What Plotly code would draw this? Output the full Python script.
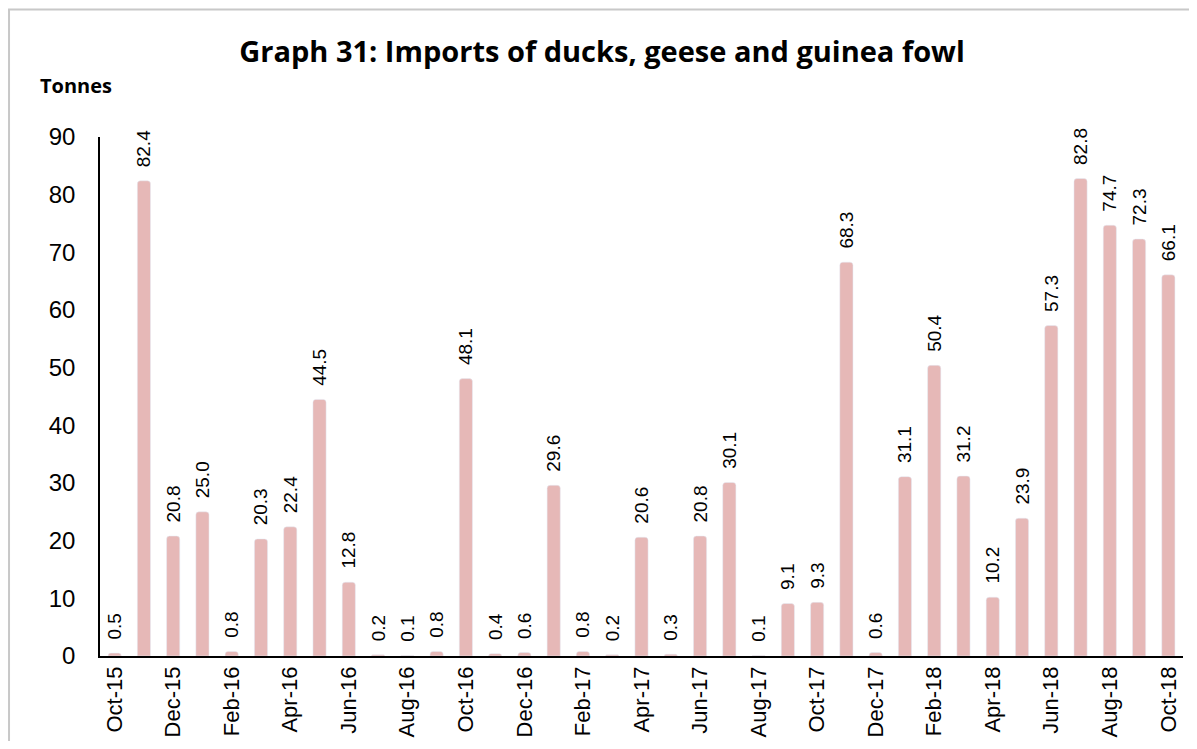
import plotly.graph_objects as go

months = ["Oct-15","Nov-15","Dec-15","Jan-16","Feb-16","Mar-16","Apr-16","May-16","Jun-16",
          "Jul-16","Aug-16","Sep-16","Oct-16","Nov-16","Dec-16","Jan-17","Feb-17","Mar-17",
          "Apr-17","May-17","Jun-17","Jul-17","Aug-17","Sep-17","Oct-17","Nov-17","Dec-17",
          "Jan-18","Feb-18","Mar-18","Apr-18","May-18","Jun-18","Jul-18","Aug-18","Sep-18","Oct-18"]
values = [0.5,82.4,20.8,25.0,0.8,20.3,22.4,44.5,12.8,0.2,0.1,0.8,48.1,0.4,0.6,29.6,0.8,0.2,
          20.6,0.3,20.8,30.1,0.1,9.1,9.3,68.3,0.6,31.1,50.4,31.2,10.2,23.9,57.3,82.8,74.7,72.3,66.1]
tick_labels = months[::2]
y_ticks = [0,10,20,30,40,50,60,70,80,90]

fig = go.Figure(go.Bar(
    x=months, y=values,
    marker=dict(color="#E6B8B7", cornerradius=3),
    text=["\u00a0\u00a0" + f"{v:.1f}" for v in values],
    textposition="outside", textangle=-90, constraintext="none",
    textfont=dict(family="Liberation Sans, Arial", size=19, color="#000000"),
    cliponaxis=False,
))

fig.update_layout(
    width=1189, height=733,
    margin=dict(l=92, r=14, t=129, b=85),
    paper_bgcolor="white", plot_bgcolor="white",
    bargap=0.55,
    showlegend=False,
    title=dict(text="<b>Graph 31: Imports of ducks, geese and guinea fowl</b>",
               x=0.4996, xanchor="center", y=0.94, yanchor="middle",
               font=dict(family="Open Sans", size=29, color="#000000"),
               automargin=False),
    xaxis=dict(tickmode="array", tickvals=tick_labels, ticktext=tick_labels,
               tickangle=-90, showline=True, linecolor="#000000", linewidth=1.5,
               ticks="", showgrid=False, automargin=False,
               tickfont=dict(family="Liberation Sans, Arial", size=22, color="#000000")),
    yaxis=dict(range=[0,90], tickvals=y_ticks, showline=True, linecolor="#000000",
               linewidth=1.5, ticks="", showgrid=False, zeroline=False, automargin=False,
               ticklabelstandoff=18,
               tickfont=dict(family="Liberation Sans, Arial", size=24, color="#000000")),
    annotations=[dict(text="<b>Tonnes</b>", xref="paper", yref="paper",
                      x=-0.0222, y=1.100, xanchor="center", yanchor="middle", showarrow=False,
                      font=dict(family="Open Sans", size=20, color="#000000"))],
    shapes=[dict(type="rect", xref="paper", yref="paper", x0=-0.0840, x1=1.0120,
                 y0=-0.3, y1=1.2457, line=dict(color="#C8C8C8", width=2),
                 fillcolor="rgba(0,0,0,0)", layer="below")],
)

fig.write_html("out.html")
